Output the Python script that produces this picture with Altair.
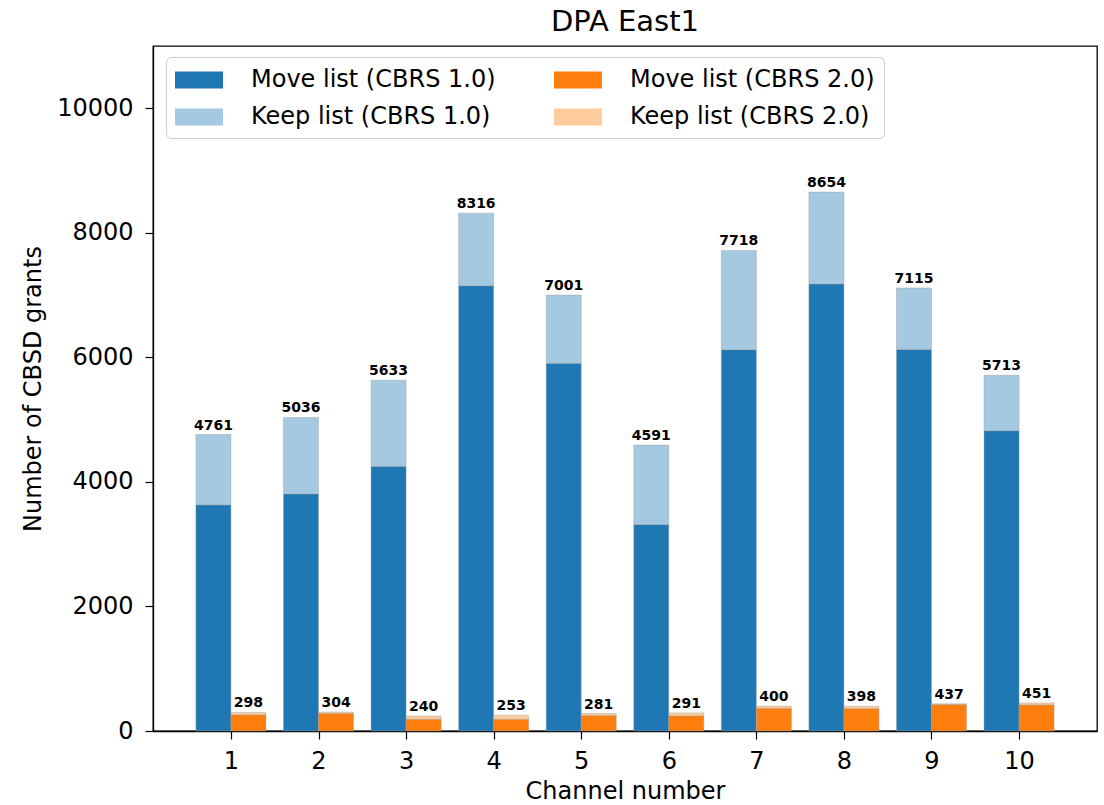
import altair as alt
import pandas as pd

channels = [1, 2, 3, 4, 5, 6, 7, 8, 9, 10]
move_v1 = [3631, 3807, 4250, 7151, 5904, 3315, 6124, 7178, 6128, 4823]
total_v1 = [4761, 5036, 5633, 8316, 7001, 4591, 7718, 8654, 7115, 5713]
move_v2 = [260, 280, 187, 190, 250, 245, 365, 360, 425, 420]
total_v2 = [298, 304, 240, 253, 281, 291, 400, 398, 437, 451]

series_order = ["Move list (CBRS 1.0)", "Keep list (CBRS 1.0)",
                "Move list (CBRS 2.0)", "Keep list (CBRS 2.0)"]
series_colors = ["#1f77b4", "#a5c9e1", "#ff7f0e", "#ffcc9e"]

rows = []
labels = []
for c, m1, t1, m2, t2 in zip(channels, move_v1, total_v1, move_v2, total_v2):
    rows.append(dict(ch=c, ver=1, series="Move list (CBRS 1.0)", lo=0, hi=m1))
    rows.append(dict(ch=c, ver=1, series="Keep list (CBRS 1.0)", lo=m1, hi=t1))
    rows.append(dict(ch=c, ver=2, series="Move list (CBRS 2.0)", lo=0, hi=m2))
    rows.append(dict(ch=c, ver=2, series="Keep list (CBRS 2.0)", lo=m2, hi=t2))
    labels.append(dict(ch=c, ver=1, total=t1))
    labels.append(dict(ch=c, ver=2, total=t2))
bars_df = pd.DataFrame(rows)
labels_df = pd.DataFrame(labels)

xscale = alt.Scale(domain=[0.11, 10.89], nice=False, zero=False)
yscale = alt.Scale(domain=[0, 11000], nice=False)

xaxis = alt.Axis(values=channels, format="d", title="Channel number",
                 labelFlush=False, titlePadding=6, labelPadding=10)
yaxis = alt.Axis(values=[0, 2000, 4000, 6000, 8000, 10000], format="d",
                 title="Number of CBSD grants", titlePadding=11, labelPadding=12)

bars = alt.Chart(bars_df).transform_calculate(
    x0="datum.ver == 1 ? datum.ch - 0.4 : datum.ch",
    x1="datum.ver == 1 ? datum.ch : datum.ch + 0.4",
).mark_bar(stroke="#9a9a9a", strokeWidth=0.6, strokeOpacity=0.7).encode(
    x=alt.X("x0:Q", scale=xscale, axis=xaxis),
    x2="x1:Q",
    y=alt.Y("lo:Q", scale=yscale, axis=yaxis),
    y2="hi:Q",
    color=alt.Color(
        "series:N",
        scale=alt.Scale(domain=series_order, range=series_colors),
        legend=alt.Legend(
            title=None, orient="none", legendX=13, legendY=11, columns=2,
            fillColor="white", strokeColor="#cccccc", cornerRadius=5,
            padding=9, symbolType="M-1,-0.607H2.429V0.607H-1Z", symbolSize=784,
            symbolStrokeWidth=0, labelFontSize=24, labelOffset=48,
            labelLimit=400, columnPadding=58, rowPadding=11,
        ),
    ),
)

texts = alt.Chart(labels_df).transform_calculate(
    xc="datum.ver == 1 ? datum.ch - 0.2 : datum.ch + 0.2"
).mark_text(fontWeight="bold", fontSize=14, baseline="bottom", dy=-2,
            color="black", font="DejaVu Sans").encode(
    x=alt.X("xc:Q", scale=xscale),
    y=alt.Y("total:Q", scale=yscale),
    text="total:Q",
)

chart = alt.layer(bars, texts).properties(
    width=944, height=685,
    title=alt.TitleParams("DPA East1", fontSize=29, font="DejaVu Sans",
                          fontWeight="normal", anchor="middle", offset=9),
    autosize=alt.AutoSizeParams(type="none"),
    padding={"left": 153, "top": 46, "right": 7, "bottom": 74},
).configure(
    font="DejaVu Sans",
).configure_view(
    stroke="black", strokeWidth=1.3,
).configure_axis(
    grid=False, domainColor="black", tickColor="black", labelColor="black",
    titleColor="black", labelFontSize=24, titleFontSize=24, tickSize=8,
    titleFontWeight="normal", domainWidth=1.3, tickWidth=1.2,
).configure_legend(
    labelColor="black",
)

chart.save("out.html", embed_options={"renderer": "svg", "actions": False})
